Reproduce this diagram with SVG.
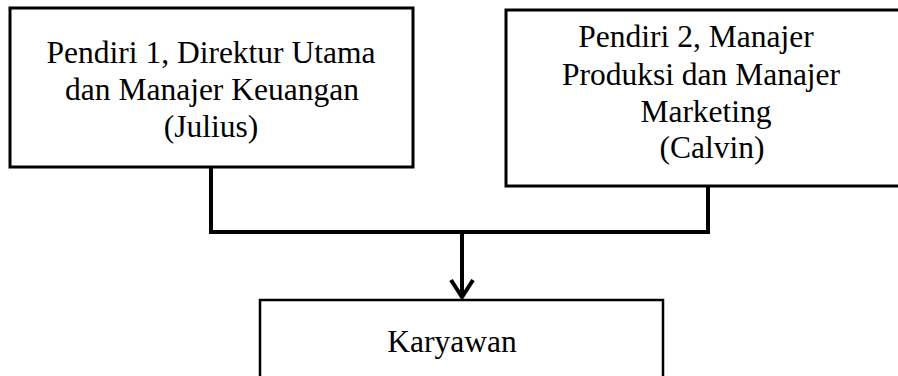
<svg xmlns="http://www.w3.org/2000/svg" width="898" height="376" viewBox="0 0 898 376">
<style>
.box{fill:#fff;stroke:#000;stroke-width:3}
.t{font-family:"Liberation Serif","Times New Roman",serif;font-size:31.5px;fill:#000;text-anchor:middle}
.c{fill:none;stroke:#000;stroke-width:4}
</style>
<rect width="898" height="376" fill="#fff"/>
<g id="connectors">
<path class="c" d="M211 167 V232 M708 186 V232 M209 232 H710 M462 232 V297"/>
<path class="c" d="M451 280 L462 297 L473 280" stroke-linejoin="miter"/>
</g>
<g id="node-julius">
<rect class="box" x="10" y="8" width="403" height="159"/>
<text class="t" x="211" y="63">Pendiri 1, Direktur Utama</text>
<text class="t" x="212" y="100">dan Manajer Keuangan</text>
<text class="t" x="211" y="137">(Julius)</text>
</g>
<g id="node-calvin">
<rect class="box" x="506" y="10" width="404" height="176"/>
<text class="t" x="696" y="47">Pendiri 2, Manajer</text>
<text class="t" x="701" y="85">Produksi dan Manajer</text>
<text class="t" x="706" y="122">Marketing</text>
<text class="t" x="712" y="158">(Calvin)</text>
</g>
<g id="node-karyawan">
<rect class="box" x="260" y="300" width="403" height="100" style="stroke-width:2.5"/>
<text class="t" x="452" y="352">Karyawan</text>
</g>
</svg>
